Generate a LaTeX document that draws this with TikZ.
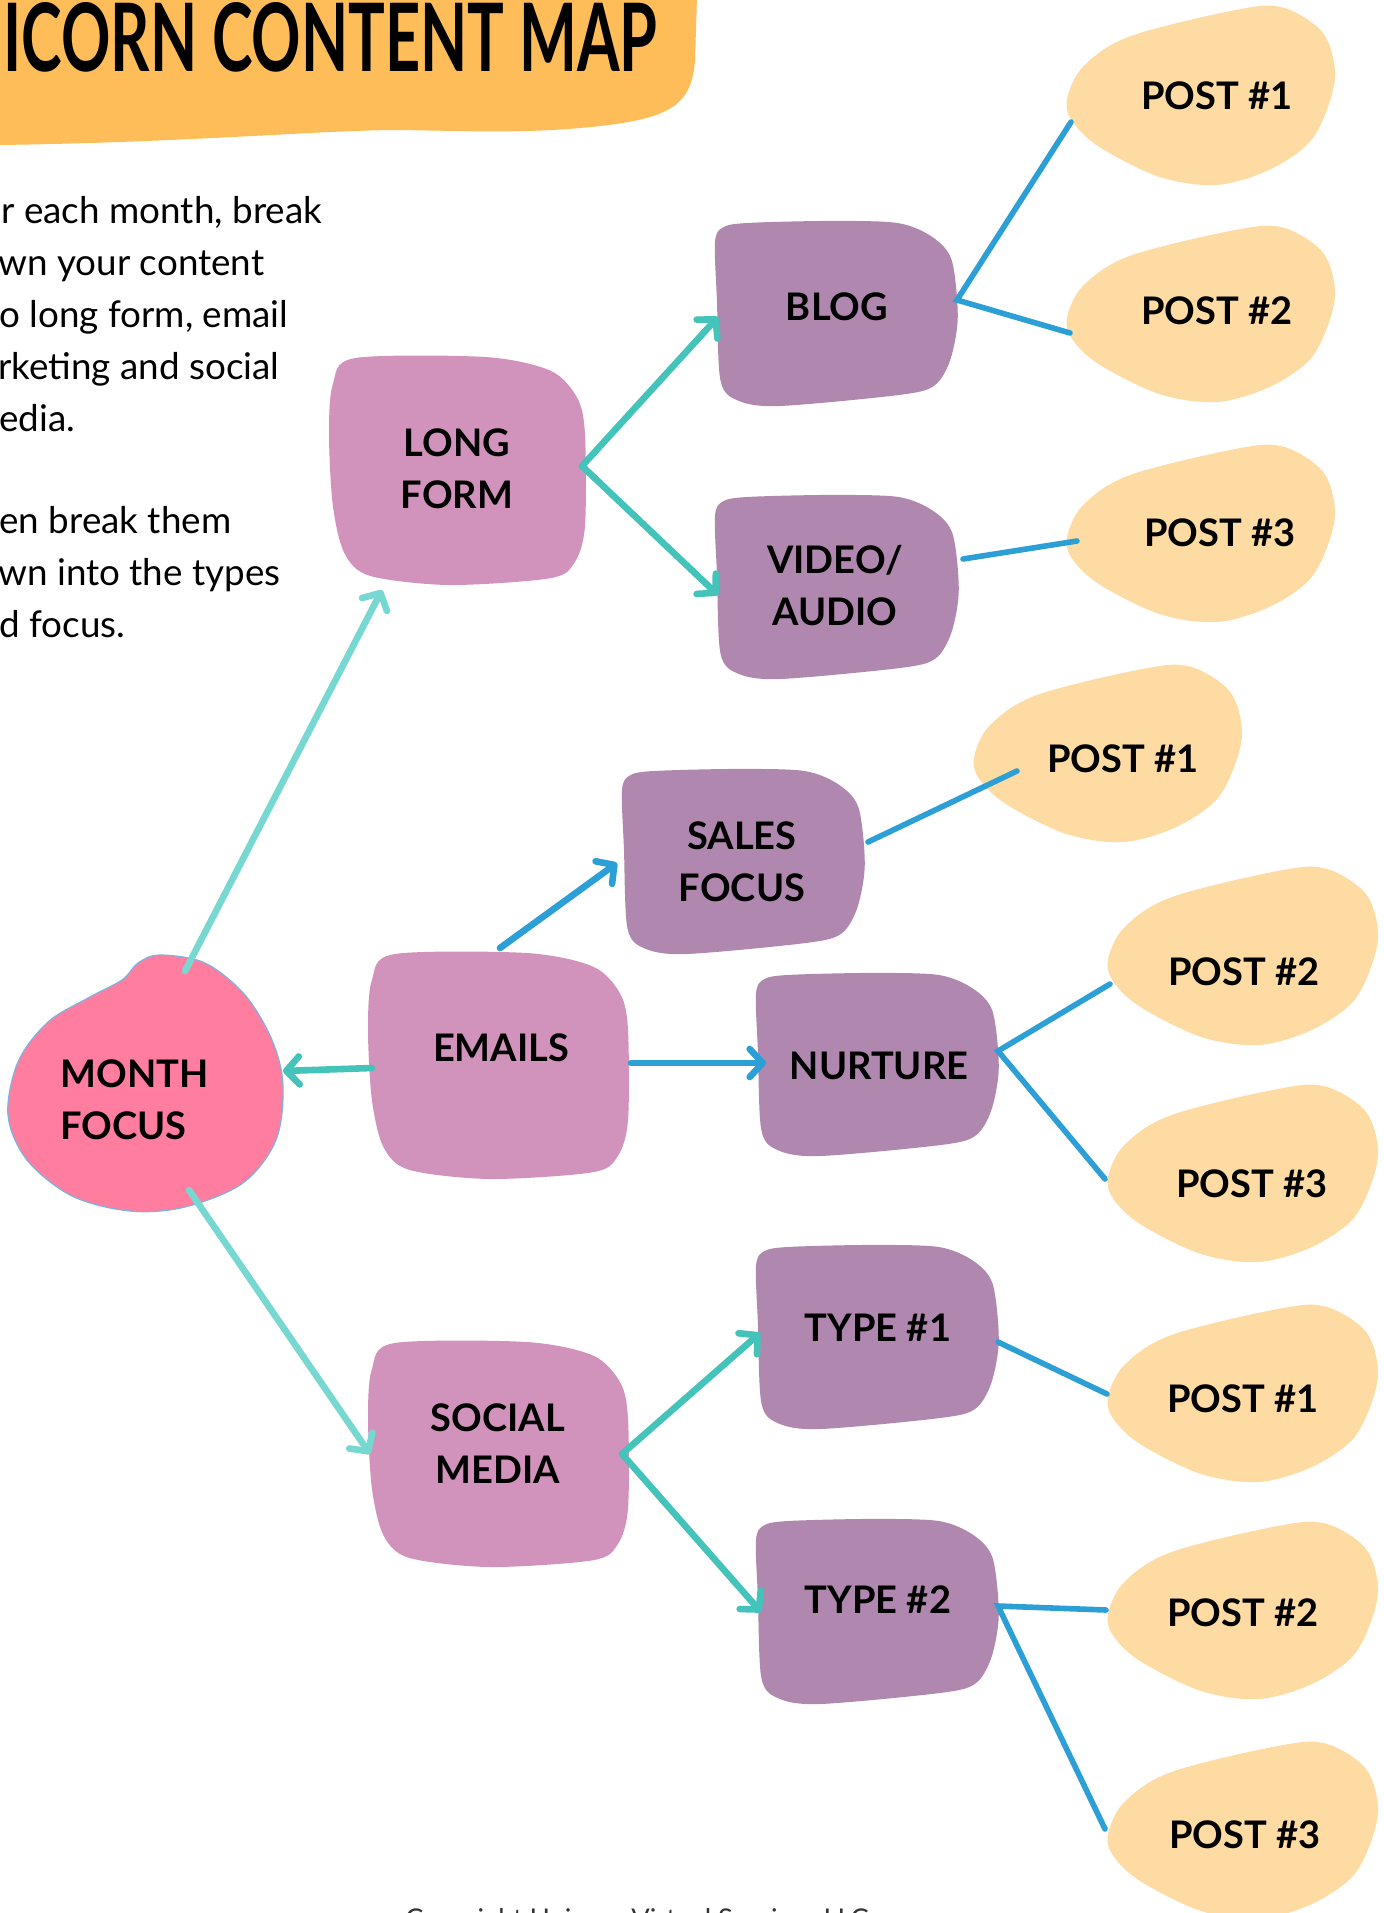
\documentclass[tikz,border=0pt]{standalone}
\usepackage{fontspec}
\setmainfont{Lato}
\usepackage{graphicx}
\usetikzlibrary{arrows.meta}

\definecolor{titleOrange}{HTML}{FFBD59}
\definecolor{hotPink}{HTML}{FF7D9F}
\definecolor{mauve}{HTML}{D193BB}
\definecolor{plum}{HTML}{B087AF}
\definecolor{peach}{HTML}{FEDBA2}
\definecolor{tealD}{HTML}{43C3B9}
\definecolor{tealL}{HTML}{77D8D2}
\definecolor{skyBlue}{HTML}{2B9FD6}
\definecolor{rimBlue}{HTML}{7DB3E0}

% organic box shapes, drawn in a unit square and stretched into place
\newcommand\pinkblob[4]{%
  \fill[mauve, shift={(#1,#2)}, xscale=#3, yscale=#4]
    plot[smooth cycle, tension=0.5] coordinates {
      (0.015,0.12) (0.1,0.005) (0.61,0.0) (0.865,0.06) (0.97,0.18) (1.0,0.34)
      (1.0,0.74) (0.96,0.9) (0.865,0.97) (0.47,1.0) (0.16,0.96) (0.06,0.86)
      (0.015,0.65) (0.0,0.34)};}
\newcommand\plumblob[4]{%
  \fill[plum, shift={(#1,#2)}, xscale=#3, yscale=#4]
    plot[smooth cycle, tension=0.5] coordinates {
      (0.008,0.12) (0.04,0.04) (0.14,0.016) (0.475,0.005) (0.75,0.016) (0.89,0.09)
      (0.97,0.215) (0.995,0.52) (0.965,0.75) (0.9,0.89) (0.76,0.94) (0.27,1.0)
      (0.1,0.97) (0.03,0.86) (0.016,0.43)};}
\newcommand\peachblob[4]{%
  \fill[peach, shift={(#1,#2)}, xscale=#3, yscale=#4]
    plot[smooth cycle, tension=0.55] coordinates {
      (0.007,0.525) (0.067,0.34) (0.24,0.17) (0.64,0.02) (0.81,0.01) (0.955,0.15)
      (1.0,0.37) (0.97,0.58) (0.9,0.77) (0.75,0.92) (0.56,1.0) (0.35,0.955)
      (0.13,0.79) (0.03,0.65)};}

\tikzset{
  lbl/.style={font=\fontsize{19}{26}\selectfont\bfseries, align=center, inner sep=0pt},
  para/.style={font=\fontsize{18.4}{26}\selectfont, anchor=base west, inner sep=0pt},
  tealArrow/.style={draw=tealD, line width=3.3pt, line cap=round,
    -{Straight Barb[round, length=6.5pt, width=14pt]}},
  paleArrow/.style={draw=tealL, line width=3.3pt, line cap=round,
    -{Straight Barb[round, length=6.5pt, width=14pt]}},
  blueArrow/.style={draw=skyBlue, line width=3.3pt, line cap=round,
    -{Straight Barb[round, length=6.5pt, width=14pt]}},
  blueLink/.style={draw=skyBlue, line width=2.8pt, line cap=round},
}

\begin{document}
\begin{tikzpicture}[x=0.5pt, y=-0.5pt]
\useasboundingbox (0,0) rectangle (1383,1913);
\fill[white] (0,0) rectangle (1383,1913);

% title banner
\fill[titleOrange] (-2,-2) -- (697,-2) -- (695,60)
  .. controls (692,105) and (670,118) .. (600,126)
  .. controls (530,134) and (470,131) .. (400,130)
  .. controls (320,130) and (200,142) .. (0,145) -- (-2,145) -- cycle;
\node[anchor=south west, inner sep=0pt] (title) at (3,73)
  {\resizebox{327pt}{34.5pt}{\bfseries ICORN CONTENT MAP}};

% intro text
\node[para] (para1) at (1,223) {r each month, break};
\node[para] (para2) at (-2,275) {wn your content};
\node[para] (para3) at (-1,327) {o long form, email};
\node[para] (para4) at (-2,379) {rketing and social};
\node[para] (para5) at (-1,431) {edia.};
\node[para] (para6) at (-1,533) {en break them};
\node[para] (para7) at (-2,585) {wn into the types};
\node[para] (para8) at (-1,637) {d focus.};

% month focus blob
\filldraw[fill=hotPink, draw=rimBlue, line width=0.6pt]
  plot[smooth cycle, tension=0.55] coordinates {
    (160,955) (205,963) (245,995) (272,1040) (283,1085) (276,1140) (243,1183)
    (185,1207) (130,1211) (72,1196) (27,1160) (8,1115) (18,1062) (48,1022)
    (88,998) (122,980) (138,963)};

% boxes
\pinkblob{329}{357}{256}{228}
\pinkblob{368}{953}{260}{226}
\pinkblob{368}{1342}{260}{225}
\plumblob{713}{220}{246}{186}
\plumblob{713}{494}{247}{185}
\plumblob{620}{768}{246}{186}
\plumblob{754}{972}{246}{184}
\plumblob{754}{1244}{246}{185}
\plumblob{754}{1518}{246}{186}

% post blobs
\peachblob{1065}{6}{270}{179}
\peachblob{1065}{226}{270}{176}
\peachblob{1065}{445}{270}{177}
\peachblob{972}{665}{270}{177}
\peachblob{1106}{867}{272}{178}
\peachblob{1106}{1085}{272}{177}
\peachblob{1106}{1305}{272}{177}
\peachblob{1106}{1522}{272}{177}
\peachblob{1106}{1742}{272}{177}

% connector ends
\coordinate (month-n) at (185,971);
\coordinate (month-e) at (283,1071);
\coordinate (month-s) at (189,1190);
\coordinate (lf-sw) at (382,590);
\coordinate (lf-e) at (582,466);
\coordinate (blog-w) at (718,317);
\coordinate (blog-e) at (957,300);
\coordinate (video-w) at (718,595);
\coordinate (video-e) at (963,559);
\coordinate (emails-n) at (500,948);
\coordinate (emails-w) at (372,1068);
\coordinate (emails-e) at (631,1063);
\coordinate (sales-w) at (617,863);
\coordinate (sales-e) at (868,842);
\coordinate (nurture-w) at (766,1063);
\coordinate (nurture-e) at (998,1051);
\coordinate (social-w) at (370,1454);
\coordinate (social-e) at (622,1454);
\coordinate (type1-w) at (760,1333);
\coordinate (type1-e) at (998,1342);
\coordinate (type2-w) at (761,1612);
\coordinate (type2-e) at (998,1606);
\coordinate (pa1-w) at (1071,122);
\coordinate (pa2-w) at (1070,333);
\coordinate (pa3-w) at (1077,541);
\coordinate (pb1-w) at (1017,771);
\coordinate (pc2-w) at (1110,984);
\coordinate (pc3-w) at (1105,1179);
\coordinate (pd1-w) at (1107,1394);
\coordinate (pe2-w) at (1106,1610);
\coordinate (pe3-w) at (1105,1829);

% connectors
\draw[paleArrow] (month-n) -- (lf-sw);
\draw[tealArrow] (emails-w) -- (month-e);
\draw[paleArrow] (month-s) -- (social-w);
\draw[tealArrow] (lf-e) -- (blog-w);
\draw[tealArrow] (lf-e) -- (video-w);
\draw[blueArrow] (emails-n) -- (sales-w);
\draw[blueArrow] (emails-e) -- (nurture-w);
\draw[tealArrow] (social-e) -- (type1-w);
\draw[tealArrow] (social-e) -- (type2-w);
\draw[blueLink] (pa1-w) -- (blog-e) -- (pa2-w);
\draw[blueLink] (video-e) -- (pa3-w);
\draw[blueLink] (sales-e) -- (pb1-w);
\draw[blueLink] (pc2-w) -- (nurture-e) -- (pc3-w);
\draw[blueLink] (type1-e) -- (pd1-w);
\draw[blueLink] (pe2-w) -- (type2-e) -- (pe3-w);

% labels
\node[lbl] (longform) at (457,469) {LONG\\FORM};
\node[lbl] (blog) at (837,307) {BLOG};
\node[lbl] (video) at (835,586) {VIDEO/\\AUDIO};
\node[lbl] (sales) at (742,862) {SALES\\FOCUS};
\node[lbl] (emails) at (501,1048) {EMAILS};
\node[lbl] (nurture) at (879,1066) {NURTURE};
\node[lbl, align=left, anchor=west] (month) at (60,1100) {MONTH\\FOCUS};
\node[lbl] (social) at (498,1444) {SOCIAL\\MEDIA};
\node[lbl] (type1) at (878,1328) {TYPE \#1};
\node[lbl] (type2) at (878,1600) {TYPE \#2};

\node[lbl] (pa1) at (1217,96) {POST \#1};
\node[lbl] (pa2) at (1217,311) {POST \#2};
\node[lbl] (pa3) at (1220,533) {POST \#3};
\node[lbl] (pb1) at (1123,759) {POST \#1};
\node[lbl] (pc2) at (1244,972) {POST \#2};
\node[lbl] (pc3) at (1252,1184) {POST \#3};
\node[lbl] (pd1) at (1243,1399) {POST \#1};
\node[lbl] (pe2) at (1243,1613) {POST \#2};
\node[lbl] (pe3) at (1245,1835) {POST \#3};

% footer, running off the lower edge
\node[anchor=north, inner sep=0pt, font=\fontsize{13.6}{16}\selectfont, text=black!80]
  (footer) at (637,1908) {Copyright Unicorn Virtual Services LLC};
\end{tikzpicture}
\end{document}
